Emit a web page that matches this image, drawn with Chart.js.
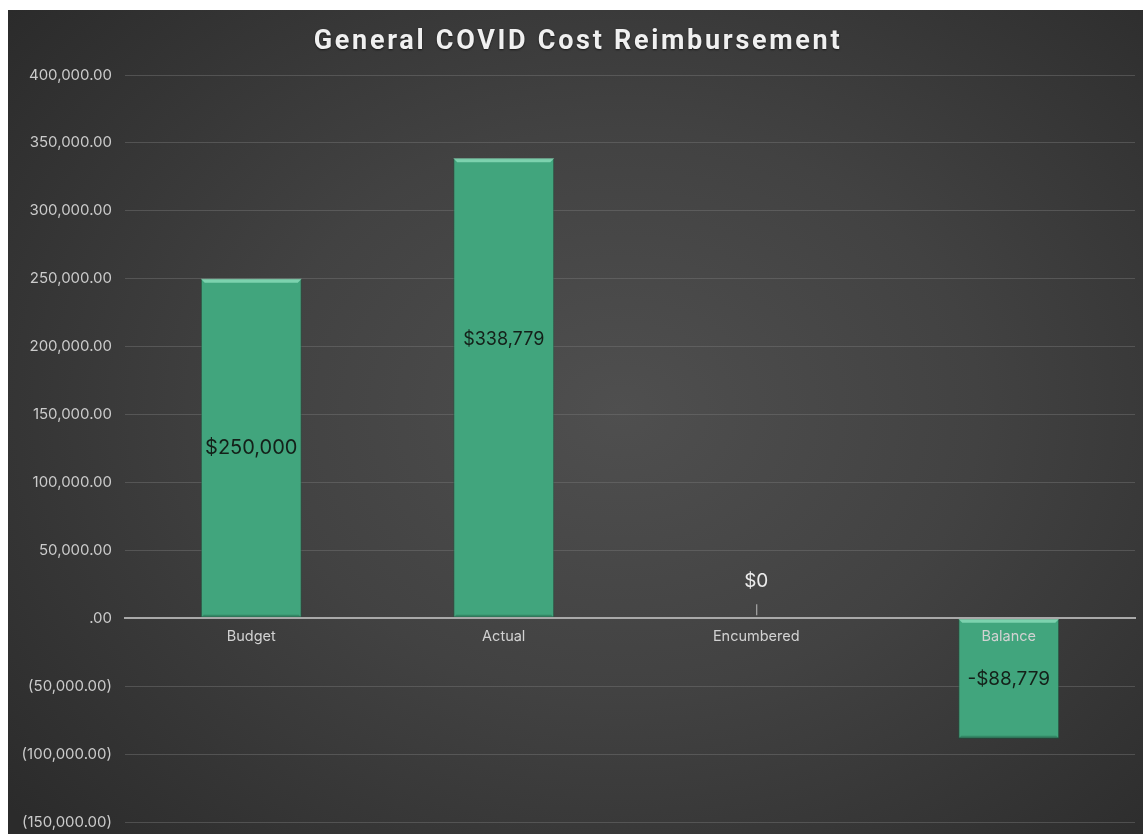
<!DOCTYPE html>
<html>
<head>
<meta charset="utf-8">
<script src="https://cdn.jsdelivr.net/npm/chart.js@4"></script>
<style>
  html, body { margin: 0; padding: 0; background: #ffffff; overflow: hidden; }
  #wrap {
    position: absolute; left: 8px; top: 10px; width: 1135px; height: 834px;
    background: radial-gradient(ellipse 70% 75% at 54% 48%, #4f4f4f 0%, #424242 45%, #2b2b2b 100%);
  }
  #title {
    position: absolute; left: 0; top: 14px; width: 1140px; text-align: center;
    font: bold 27px Roboto, Inter, sans-serif; letter-spacing: 2.7px; color: #f0f0f0;
    text-shadow: 0 1px 2px rgba(0,0,0,0.6);
  }
  canvas { position: absolute; left: 0; top: 0; }
</style>
</head>
<body>
<div id="wrap">
  <canvas id="cost-chart" width="1135" height="834"></canvas>
  <div id="title">General COVID Cost Reimbursement</div>
</div>
<script>
// chart values
const categories = ['Budget', 'Actual', 'Encumbered', 'Balance'];
const amounts = [250000, 338779, 0, -88779];
const yMin = -150000;
const yMax = 400000;
const yStep = 50000;

function money(v) {
    const s = '$' + Math.abs(v).toLocaleString('en-US');
    return v < 0 ? '-' + s : s;
}

function tickText(v) {
    if (v === 0) return '.00';
    const s = Math.abs(v).toLocaleString('en-US', { minimumFractionDigits: 2, maximumFractionDigits: 2 });
    return v < 0 ? '(' + s + ')' : s;
}

// bevel on the bars + the $ labels
const barLabels = {
    id: 'barLabels',
    afterDatasetsDraw(chart, args, opts) {
        const ctx = chart.ctx;
        const y = chart.scales.y;
        const meta = chart.getDatasetMeta(0);
        ctx.save();
        meta.data.forEach((bar, i) => {
            const v = amounts[i];
            if (v === 0) return;
            const half = bar.width / 2;
            const left = bar.x - half, right = bar.x + half;
            const top = Math.min(bar.y, bar.base), bottom = Math.max(bar.y, bar.base);
            // light bevel on top edge
            ctx.fillStyle = 'rgba(150,230,195,0.7)';
            ctx.beginPath();
            ctx.moveTo(left, top);
            ctx.lineTo(right, top);
            ctx.lineTo(right - 4, top + 4);
            ctx.lineTo(left + 4, top + 4);
            ctx.closePath();
            ctx.fill();
            // darker bottom edge
            ctx.fillStyle = 'rgba(20,70,50,0.3)';
            ctx.beginPath();
            ctx.moveTo(left, bottom);
            ctx.lineTo(right, bottom);
            ctx.lineTo(right - 3, bottom - 3);
            ctx.lineTo(left + 3, bottom - 3);
            ctx.closePath();
            ctx.fill();
        });
        ctx.textAlign = 'center';
        ctx.textBaseline = 'middle';
        meta.data.forEach((bar, i) => {
            const v = amounts[i];
            ctx.font = (opts.sizes[i] || 19) + 'px Inter, "Noto Sans", sans-serif';
            if (v === 0) {
                const base = y.getPixelForValue(0);
                ctx.fillStyle = '#ececec';
                ctx.fillText(money(v), bar.x, base - 37);
                ctx.strokeStyle = '#bdbdbd';
                ctx.lineWidth = 1;
                ctx.beginPath();
                ctx.moveTo(bar.x + 0.5, base - 14);
                ctx.lineTo(bar.x + 0.5, base - 3);
                ctx.stroke();
                return;
            }
            const mid = (bar.y + bar.base) / 2 + (opts.offsets[i] || 0);
            ctx.fillStyle = '#142019';
            ctx.fillText(money(v), bar.x, mid);
        });
        ctx.restore();
    }
};

var ctx = document.getElementById('cost-chart').getContext('2d');

var costChart = new Chart(ctx, {
    type: 'bar',
    data: {
        labels: categories,
        datasets: [{
            data: amounts,
            backgroundColor: '#41a57d',
            borderColor: 'rgba(30,90,65,0.6)',
            borderWidth: 1,
            borderSkipped: false,
            categoryPercentage: 1,
            barPercentage: 0.4
        }]
    },
    plugins: [barLabels],
    options: {
        responsive: false,
        animation: false,
        layout: { padding: { top: 65, right: 8, bottom: 0 } },
        plugins: {
            legend: { display: false },
            tooltip: { enabled: false },
            title: { display: false },
            barLabels: { offsets: [0, -48, 0, 0], sizes: [20, 18, 19, 19] }
        },
        scales: {
            x: {
                position: { y: 0 },
                grid: { display: false, drawTicks: false },
                border: { display: true, color: '#a9a9a9', width: 2, z: 1 },
                ticks: {
                    z: 1,
                    color: '#d2d2d2',
                    padding: 10,
                    font: { family: 'Inter, "Noto Sans", sans-serif', size: 14.5 }
                }
            },
            y: {
                min: yMin,
                max: yMax,
                afterFit(scale) { scale.width = 117; },
                grid: {
                    color: 'rgba(120,120,120,0.45)',
                    lineWidth: 1,
                    drawTicks: false
                },
                border: { display: false },
                ticks: {
                    stepSize: yStep,
                    color: '#cbcbcb',
                    padding: 13,
                    font: { family: 'Inter, "Noto Sans", sans-serif', size: 15 },
                    callback: function (v) { return tickText(v); }
                }
            }
        }
    }
});
</script>
</body>
</html>
